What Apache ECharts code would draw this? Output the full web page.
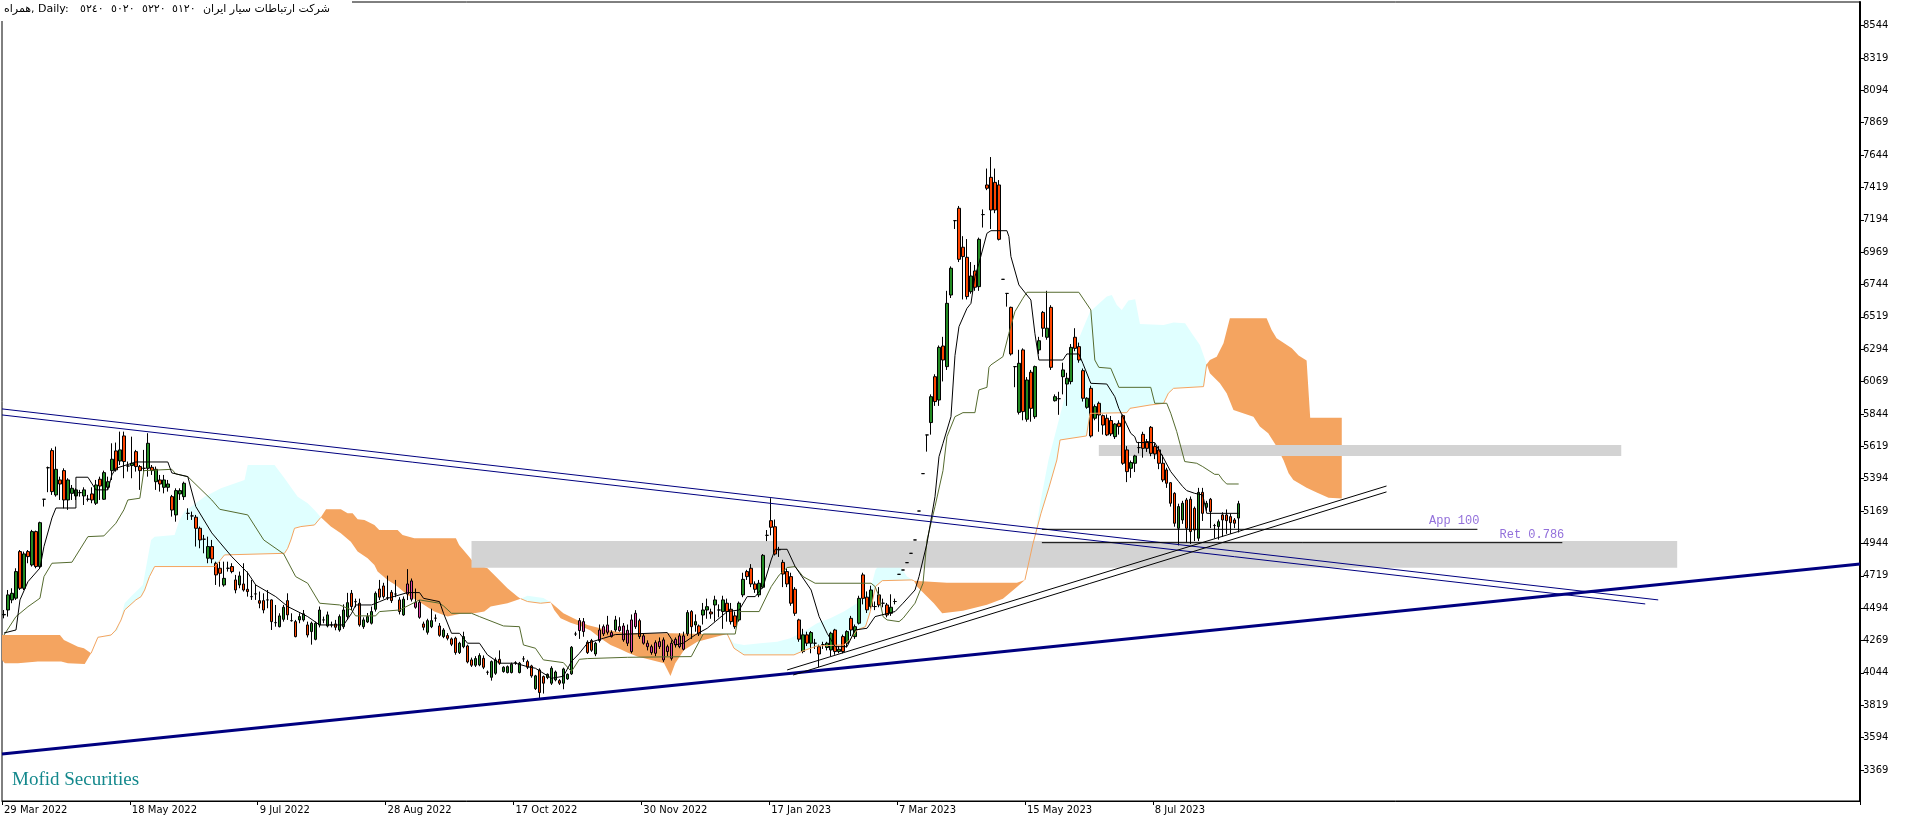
<!DOCTYPE html>
<html><head><meta charset="utf-8">
<script src="https://cdn.jsdelivr.net/npm/echarts@6/dist/echarts.min.js"></script>
<style>html,body{margin:0;padding:0;background:#fff;overflow:hidden}#c{width:1916px;height:826px}</style>
</head><body><div id="c"></div>
<script>
// ---------- axis labels ----------
const dateLabels = ['29 Mar 2022','18 May 2022','9 Jul 2022','28 Aug 2022','17 Oct 2022','30 Nov 2022','17 Jan 2023','7 Mar 2023','15 May 2023','8 Jul 2023'];
const labelEvery = 32;
const slotCount = 465;
const priceTicks = [3369,3594,3819,4044,4269,4494,4719,4944,5169,5394,5619,5844,6069,6294,6519,6744,6969,7194,7419,7644,7869,8094,8319,8544];
const priceMin = 3153, priceMax = 8708;
// title pieces, left to right
const titleHead = ['همراه, Daily:', '٥٢٤٠', '٥٠٢٠', '٥٢٢٠', '٥١٢٠'];
const titleHeadX = [4, 80, 111, 142, 172];
const titleName = 'شرکت ارتباطات سیار ایران';
const titleNameX = 203;

// ---------- daily candles [open, high, low, close] ----------
const ohlc = [
[4447,4481,4423,4450],[4481,4620,4435,4586],[4551,4632,4528,4597],[4563,4771,4551,4748],[4887,4898,4620,4632],
[4632,4887,4620,4871],[4887,4898,4806,4852],[4794,5038,4783,5026],[5026,5033,4771,4783],[4783,5095,4771,5088],
[5251,5251,5200,5251],[5470,5478,5300,5470],[5589,5605,5281,5304],[5281,5617,5269,5459],[5385,5408,5246,5357],
[5450,5466,5188,5246],[5246,5397,5177,5385],[5292,5350,5246,5327],[5274,5327,5246,5316],[5297,5316,5269,5297],
[5274,5334,5211,5316],[5251,5281,5235,5251],[5288,5334,5223,5246],[5223,5385,5211,5350],[5390,5408,5246,5343],
[5251,5450,5246,5436],[5334,5408,5316,5373],[5450,5640,5385,5529],[5587,5645,5443,5455],[5517,5721,5489,5594],
[5691,5721,5397,5513],[5482,5513,5443,5482],[5485,5686,5397,5501],[5582,5594,5443,5478],[5478,5489,5316,5450],
[5466,5594,5443,5466],[5466,5710,5408,5640],[5473,5489,5420,5450],[5373,5478,5316,5459],[5385,5420,5304,5357],
[5334,5420,5292,5385],[5334,5385,5304,5357],[5269,5281,5130,5176],[5142,5327,5095,5311],[5288,5327,5246,5311],
[5269,5373,5246,5362],[5153,5188,5107,5153],[5135,5165,5107,5135],[5126,5142,4922,5049],[5049,5061,4910,4968],
[4973,5003,4875,4973],[4841,4991,4806,4922],[4922,4968,4806,4836],[4806,4817,4655,4725],[4771,4817,4643,4736],
[4655,4817,4643,4701],[4771,4817,4748,4771],[4783,4806,4736,4748],[4690,4725,4597,4620],[4655,4748,4632,4718],
[4662,4806,4609,4620],[4625,4748,4574,4609],[4574,4690,4551,4574],[4593,4655,4551,4593],[4546,4609,4493,4528],
[4546,4597,4458,4481],[4551,4620,4493,4551],[4551,4555,4342,4400],[4393,4516,4365,4393],[4365,4458,4360,4440],
[4416,4516,4400,4500],[4546,4597,4412,4447],[4407,4458,4400,4407],[4400,4412,4291,4296],[4412,4458,4389,4435],
[4412,4481,4400,4454],[4377,4400,4290,4307],[4331,4400,4240,4389],[4277,4400,4270,4389],[4377,4505,4360,4481],
[4412,4435,4389,4412],[4370,4470,4360,4447],[4377,4400,4360,4377],[4384,4412,4340,4361],[4342,4450,4330,4435],
[4365,4520,4350,4481],[4435,4600,4412,4532],[4597,4620,4480,4505],[4539,4560,4500,4539],[4528,4560,4365,4377],
[4365,4430,4350,4412],[4398,4460,4390,4435],[4389,4505,4380,4470],[4486,4610,4470,4597],[4627,4690,4550,4570],
[4648,4670,4560,4574],[4567,4720,4550,4567],[4604,4620,4530,4546],[4592,4690,4570,4592],[4551,4570,4450,4470],
[4447,4575,4440,4556],[4662,4765,4550,4592],[4556,4700,4540,4683],[4535,4630,4490,4500],[4430,4550,4420,4535],
[4384,4400,4340,4361],[4326,4420,4310,4407],[4365,4490,4355,4407],[4424,4450,4400,4424],[4370,4390,4295,4305],
[4296,4355,4285,4342],[4303,4320,4270,4284],[4280,4290,4230,4243],[4285,4295,4170,4185],[4185,4260,4175,4250],
[4226,4330,4215,4296],[4231,4240,4110,4120],[4134,4150,4085,4097],[4097,4160,4085,4143],[4099,4180,4090,4164],
[4145,4165,4070,4083],[4048,4060,4030,4048],[4013,4130,3990,4122],[4041,4150,4030,4134],[4138,4200,4100,4111],
[4053,4090,4045,4083],[4046,4095,4040,4087],[4046,4115,4040,4104],[4115,4125,4100,4115],[4046,4120,4040,4111],
[4141,4160,4120,4141],[4122,4135,4070,4083],[4092,4100,4010,4023],[3934,4030,3925,4023],[4064,4075,3860,3907],
[4018,4025,3900,3972],[4011,4040,4000,4034],[3972,4090,3960,4076],[3995,4060,3985,4050],[3990,4000,3960,3972],
[3972,4080,3930,4071],[4002,4040,3995,4034],[4037,4230,4030,4222],[4314,4330,4300,4314],[4407,4425,4280,4338],
[4331,4425,4295,4400],[4257,4270,4175,4185],[4268,4280,4190,4201],[4175,4260,4160,4250],[4342,4380,4255,4268],
[4315,4380,4300,4365],[4326,4440,4310,4377],[4324,4340,4290,4296],[4342,4440,4330,4412],[4338,4430,4330,4365],
[4273,4390,4260,4370],[4340,4380,4230,4250],[4412,4450,4180,4192],[4365,4480,4350,4458],[4407,4420,4280,4296],
[4250,4320,4240,4301],[4250,4270,4200,4226],[4185,4240,4170,4226],[4254,4270,4160,4180],[4261,4290,4210,4226],
[4134,4290,4120,4273],[4226,4240,4160,4192],[4145,4270,4130,4250],[4238,4290,4220,4277],[4226,4320,4215,4301],
[4301,4330,4200,4208],[4315,4480,4300,4463],[4470,4480,4280,4365],[4377,4450,4330,4400],[4370,4380,4300,4315],
[4446,4530,4380,4481],[4481,4560,4420,4504],[4467,4490,4420,4454],[4516,4580,4400,4551],[4481,4520,4430,4481],
[4470,4580,4350,4551],[4528,4560,4400,4470],[4486,4530,4380,4400],[4440,4470,4350,4365],[4412,4540,4400,4528],
[4586,4740,4570,4694],[4748,4760,4690,4713],[4771,4800,4640,4662],[4662,4680,4600,4625],[4586,4690,4570,4667],
[4639,4870,4630,4861],[5000,5037,4960,5000],[5102,5258,5000,5056],[5060,5110,4860,4870],[4900,4920,4850,4900],
[4812,4830,4640,4731],[4748,4770,4640,4662],[4713,4740,4510,4528],[4625,4640,4440,4458],[4412,4420,4260,4278],
[4192,4350,4180,4308],[4308,4330,4230,4250],[4250,4335,4180,4324],[4250,4280,4210,4250],[4226,4240,4083,4175],
[4240,4260,4210,4240],[4220,4260,4200,4250],[4203,4330,4160,4319],[4342,4350,4170,4192],[4192,4230,4180,4208],
[4296,4310,4180,4192],[4250,4340,4220,4331],[4423,4440,4300,4342],[4296,4380,4280,4365],[4389,4580,4380,4562],
[4725,4740,4520,4562],[4570,4610,4460,4482],[4505,4650,4490,4620],[4505,4540,4480,4505],[4586,4640,4500,4516],
[4528,4560,4500,4528],[4516,4530,4430,4446],[4458,4590,4440,4500],[4540,4560,4520,4540],[4729,4729,4729,4729],
[4759,4759,4759,4759],[4810,4810,4810,4810],[4875,4875,4875,4875],[4968,4968,4968,4968],[5169,5169,5169,5169],
[5429,5429,5429,5429],[5698,5698,5582,5698],[5784,5980,5700,5964],[6103,6120,5900,5930],[5941,6320,5900,6307],
[6316,6380,6070,6219],[6173,6700,6150,6613],[6671,6870,6650,6857],[7188,7188,7130,7188],[7274,7290,6900,6919],
[7003,7080,6640,6938],[6933,7060,6640,6660],[6694,6900,6680,6803],[6838,6880,6700,6725],[6729,7070,6700,7058],
[7230,7266,7140,7230],[7436,7550,7400,7413],[7489,7630,7130,7262],[7454,7550,7240,7262],[7436,7470,7050,7058],
[6780,6780,6780,6780],[6682,6682,6590,6682],[6585,6590,6250,6261],[6173,6173,6030,6173],[5855,6290,5840,6196],
[6289,6300,5800,5860],[5807,6100,5790,6080],[6134,6150,5790,5883],[5825,6180,5810,6173],[6289,6380,6260,6353],
[6550,6560,6380,6440],[6377,6700,6360,6440],[6585,6600,6150,6168],[5936,5980,5930,5964],[5950,5998,5838,5950],
[6103,6200,5980,6150],[6052,6130,5900,6092],[6069,6330,6050,6307],[6377,6440,6280,6300],[6312,6340,6200,6219],
[6145,6160,5930,5953],[5890,5960,5880,5953],[6022,6040,5680,5691],[5814,5910,5800,5895],[5918,5930,5720,5837],
[5832,5840,5700,5767],[5814,5840,5690,5698],[5798,5830,5690,5705],[5686,5780,5670,5774],[5779,5800,5700,5756],
[5832,5840,5490,5501],[5594,5620,5370,5443],[5466,5520,5400,5506],[5501,5560,5440,5552],[5610,5650,5570,5610],
[5702,5720,5540,5605],[5652,5670,5580,5605],[5751,5760,5550,5570],[5617,5640,5530,5566],[5594,5620,5460,5501],
[5501,5560,5370,5385],[5455,5470,5330,5362],[5366,5370,5200,5223],[5292,5300,5060,5084],[5049,5220,4930,5200],
[5107,5240,5080,5223],[5246,5260,4950,5049],[5251,5270,4940,5026],[5188,5200,4960,5037],[4980,5330,4960,5299],
[5299,5330,5100,5153],[5195,5240,5170,5223],[5251,5260,5050,5165],[5068,5080,4980,5068],[5061,5110,4970,5095],
[5142,5160,4990,5107],[5142,5180,5010,5102],[5130,5150,5010,5088],[5107,5120,5050,5084],[5120,5240,5020,5220]
];
// bars whose candles are drawn inside the cloud (shown with inverted colours)
const inCloudBars = [101,102,103,104,144,145,149,150,151,152,154,155,156,157,158,160,161,162,163,164,165,166,167,168,169,170];

// ---------- Ichimoku lines, read as [bar, price] vertices ----------
const tenkan = [[0,4321],[3,4342],[4,4551],[6,4678],[9,4773],[10,4922],[12,5121],[13,5190],[18,5190],[18,5404],[21,5404],[23,5316],[26,5316],[27,5420],[28,5466],[33,5510],[41,5510],[42,5434],[46,5408],[48,5200],[52,5017],[57,4852],[61,4739],[63,4655],[68,4574],[71,4505],[76,4435],[79,4377],[85,4377],[87,4458],[88,4516],[92,4516],[94,4539],[96,4562],[101,4602],[104,4602],[105,4562],[109,4539],[110,4458],[112,4319],[114,4319],[116,4250],[119,4250],[121,4169],[124,4111],[128,4111],[131,4087],[133,4076],[137,4006],[140,4020],[142,4122],[144,4180],[146,4250],[150,4284],[153,4310],[166,4324],[168,4238],[170,4250],[173,4308],[176,4354],[178,4400],[181,4470],[184,4481],[186,4574],[188,4574],[190,4644],[192,4829],[193,4903],[196,4903],[198,4783],[202,4620],[204,4435],[206,4319],[208,4226],[211,4226],[213,4342],[216,4354],[218,4435],[223,4470],[225,4528],[228,4620],[229,4713],[231,4945],[233,5269],[234,5547],[235,5640],[237,5825],[238,6250],[239,6451],[241,6578],[242,6613],[243,6799],[244,6891],[246,7100],[247,7118],[251,7118],[251.5,7077],[252,6938],[254,6741],[257,6636],[258,6405],[259,6219],[265,6219],[266,6261],[269,6261],[270,6196],[272,6057],[276,6052],[278,5964],[279,5883],[281,5768],[282,5709],[283,5686],[283.5,5645],[288,5645],[289,5594],[290,5547],[292,5443],[294,5373],[295,5339],[296,5311],[298,5292],[300,5281],[301,5153],[309,5153]];
const kijun = [[0,4307],[3,4435],[6,4504],[9,4563],[10,4713],[12,4806],[17,4813],[21,4991],[25,4996],[28,5084],[30,5177],[31,5246],[34,5258],[35,5450],[42,5459],[43,5427],[46,5408],[52,5246],[54,5181],[61,5142],[65,4968],[70,4871],[73,4713],[76,4667],[79,4528],[84,4516],[87,4481],[88,4440],[93,4440],[94,4470],[99,4481],[104,4551],[109,4528],[110,4509],[112,4458],[117,4458],[119,4435],[125,4370],[129,4365],[130,4238],[133,4215],[135,4134],[140,4115],[142,4053],[144,4138],[146,4143],[156,4152],[172,4157],[175,4314],[183,4314],[184,4470],[189,4470],[192,4643],[194,4724],[196,4776],[198,4783],[200,4713],[203,4667],[217,4667],[218,4644],[219,4574],[220,4435],[221,4412],[224,4400],[225,4423],[228,4528],[230,4667],[231,4968],[233,5200],[235,5450],[236,5686],[238,5825],[240,5853],[243,5853],[244,6011],[246,6029],[246.5,6168],[247,6185],[250,6242],[251.5,6405],[253,6555],[255,6648],[256,6690],[269,6690],[272,6567],[273,6219],[274,6168],[277,6161],[279,6029],[287,6029],[288,5918],[291,5918],[292,5849],[293.5,5721],[295.5,5513],[298.5,5501],[300,5478],[303,5424],[304,5424],[305,5385],[306,5357],[309,5357]];

// ---------- Kumo (cloud) pieces: upper edge and lower edge, [bar, price] ----------
const kumoO1Up = [[-0.5,4307],[14,4307],[15,4273],[18.5,4226],[20,4215],[21.8,4180]];
const kumoO1Lo = [[-0.5,4134],[0.2,4111],[3.5,4111],[8.5,4122],[14.3,4122],[16,4111],[20.2,4106],[21.8,4180]];
const kumoC1Up = [[21.8,4180],[23.5,4296],[26.4,4296],[28.5,4342],[30.2,4528],[31.8,4574],[34.75,4655],[36.8,4968],[37.7,4991],[42.7,5003],[43.9,5107],[45.2,5165],[50.2,5269],[54.3,5327],[60.2,5385],[61,5489],[67.7,5489],[70.2,5397],[73.5,5269],[76,5223],[77.7,5177],[79.3,5125]];
const kumoC1Lo = [[21.8,4180],[23.5,4291],[26.8,4307],[28,4342],[29.3,4412],[30.2,4481],[33,4551],[34.3,4574],[35.2,4620],[36.4,4713],[37.7,4783],[52.7,4783],[53.5,4806],[55.2,4864],[70.2,4875],[71,4910],[71.8,4968],[72.7,5049],[74.3,5061],[77.7,5072],[79.3,5125]];
const kumoO2Up = [[79.3,5125],[80.6,5181],[84.3,5181],[86,5153],[87.25,5153],[88.5,5112],[90.2,5107],[92.7,5072],[93.9,5037],[98.5,5037],[99.75,5003],[102.7,4980],[113.1,4980],[113.9,4933],[116.4,4852],[117.7,4806],[121,4771],[122.7,4725],[126,4632],[128.5,4574],[129.3,4560]];
const kumoO2Lo = [[79.3,5125],[81.8,5061],[84.3,5014],[86.8,4956],[88.5,4887],[91,4841],[92.7,4794],[93.5,4748],[96,4690],[98,4655],[101,4586],[104.3,4532],[107.7,4470],[111,4435],[114.3,4454],[117.7,4458],[120.2,4470],[121.8,4505],[126,4528],[129.3,4560]];
const kumoC2Up = [[129.3,4560],[131,4580],[135,4565],[136.8,4535]];
const kumoC2Lo = [[129.3,4560],[131,4540],[134.3,4528],[136.8,4535]];
const kumoO3Up = [[136.8,4535],[140,4458],[144.3,4400],[146,4377],[151,4342],[156,4319],[167,4319],[175,4314],[181,4314]];
const kumoO3Lo = [[136.8,4535],[137.7,4481],[139.3,4424],[141.8,4393],[144.3,4370],[146.8,4338],[149.3,4284],[151.8,4238],[154.3,4208],[156,4185],[158.5,4157],[165.2,4111],[166.8,4022],[168,4111],[170.2,4203],[173.5,4261],[178.5,4296],[181,4314]];
const kumoC3Up = [[181,4314],[182.7,4250],[185.2,4238],[189.3,4250],[193.5,4261],[196.8,4284],[200.2,4331],[203.5,4389],[206.8,4423],[210.2,4470],[213.5,4528],[216.8,4620],[218.1,4759],[219.3,4810],[221.8,4833],[223.5,4817],[226,4713],[227.7,4685]];
const kumoC3Lo = [[181,4314],[182.7,4215],[185.2,4169],[197.7,4169],[200.2,4199],[203.5,4231],[210.2,4238],[211.8,4277],[213.5,4342],[215.6,4365],[216.8,4470],[218.1,4644],[219.8,4685],[227.2,4690],[227.7,4685]];
const kumoO4Up = [[227.7,4685],[236,4671],[253.5,4670],[255.5,4690]];
const kumoO4Lo = [[227.7,4685],[228.5,4644],[231,4574],[232.7,4528],[234.8,4458],[240,4475],[246,4517],[250,4560],[253.5,4640],[255.5,4690]];
const kumoC4Up = [[255.5,4690],[256.6,4800],[258,5000],[259.5,5250],[261.4,5524],[265.5,5964],[268.5,6335],[271.8,6555],[276,6660],[277.25,6671],[278.5,6602],[279.75,6567],[281.4,6632],[283.1,6641],[284.3,6470],[290.2,6463],[292.7,6479],[295.6,6474],[297.25,6405],[299.3,6323],[301,6190]];
const kumoC4Lo = [[255.5,4690],[257.5,4940],[259.5,5150],[261.5,5330],[263.5,5524],[264.3,5663],[270.9,5691],[271.8,5848],[281,5853],[281.8,5883],[286.8,5906],[290.2,5918],[291.4,5988],[292.7,6022],[300.2,6034],[301,6190]];
const kumoO5Up = [[301,6190],[301.8,6219],[303.5,6242],[305.2,6335],[306.8,6509],[316,6509],[317.25,6428],[318.5,6370],[322.3,6301],[324,6250],[326,6216],[326.9,5817],[334.8,5817]];
const kumoO5Lo = [[301,6190],[301.8,6127],[304.3,6057],[306,5988],[307.7,5872],[312.7,5825],[314.3,5756],[316.4,5709],[318.5,5617],[320.2,5524],[321.5,5431],[322.7,5385],[326,5330],[328.4,5300],[331.5,5262],[334.8,5256]];
const orangeKumo = [[kumoO1Up,kumoO1Lo],[kumoO2Up,kumoO2Lo],[kumoO3Up,kumoO3Lo],[kumoO4Up,kumoO4Lo],[kumoO5Up,kumoO5Lo]];
const cyanKumo = [[kumoC1Up,kumoC1Lo],[kumoC2Up,kumoC2Lo],[kumoC3Up,kumoC3Lo],[kumoC4Up,kumoC4Lo]];

// ---------- drawn objects ----------
const channelTop = [[-0.5,5879],[414,4551]];
const channelBottom = [[-0.5,5837],[410.75,4523]];
const supportLine = [[-0.5,3480],[464.5,4801]];
const riseLineA = [[196,4064],[346,5343]];
const riseLineB = [[197.5,4029],[346,5302]];
const levelNames = ['App 100','Ret 0.786'];
const levelPrice = [5042,4949];
const levelFrom = [259.75,259.75];
const levelTo = [368.75,390];
const zoneFrom = [117,274];
const zoneTo = [418.75,404.75];
const zoneHigh = [4961,5628.5];
const zoneLow = [4775.5,5552];

// ---------- chart ----------
const FONT = '"DejaVu Sans", sans-serif';
const TITLE_FONT = '11px "DejaVu Sans"';
const chart = echarts.init(document.getElementById('c'), null, {renderer:'canvas'});
const slots = Array.from({length: slotCount}, (_, i) => String(i));
const showLabel = (i) => i % labelEvery === 0 && (i / labelEvery) < dateLabels.length;

function lineSeries(pts, color, width, z) {
  return {type:'line', xAxisIndex:1, yAxisIndex:0, data:pts, symbol:'none', silent:true,
    clip:true, z:z, lineStyle:{color:color, width:width}, emphasis:{disabled:true}};
}
function kumoSeries(regions, fill, z) {
  return {type:'custom', xAxisIndex:1, yAxisIndex:0, z:z, silent:true, clip:true,
    data: regions.map((r, i) => [i, r[0][0][1]]), encode:{x:0, y:1},
    renderItem: (params, api) => {
      const r = regions[params.dataIndex];
      const pts = r[0].concat(r[1].slice().reverse()).map(p => api.coord(p));
      return {type:'polygon', shape:{points:pts}, style:{fill:fill}};
    }};
}
const candleData = ohlc.map((d, i) => {
  const item = {value:[d[0], d[3], d[2], d[1]]};
  if (inCloudBars.indexOf(i) >= 0) item.itemStyle = {color:'#E0409C', color0:'#10B4E8'};
  return item;
});

const series = [
  kumoSeries(orangeKumo, '#F4A460', 1),
  kumoSeries(cyanKumo, '#E0FFFF', 1),
  {type:'custom', xAxisIndex:1, yAxisIndex:0, z:2, silent:true, clip:true,
    data: zoneFrom.map((f, i) => [f, zoneHigh[i]]), encode:{x:0, y:1},
    renderItem: (params, api) => {
      const i = params.dataIndex;
      const a = api.coord([zoneFrom[i], zoneHigh[i]]);
      const b = api.coord([zoneTo[i], zoneLow[i]]);
      return {type:'rect', shape:{x:a[0], y:a[1], width:b[0]-a[0], height:b[1]-a[1]},
        style:{fill:'#D3D3D3', blend:'multiply'}};
    }},
  {type:'candlestick', xAxisIndex:0, yAxisIndex:0, z:3, silent:true, barWidth:3,
    data: candleData,
    itemStyle:{color:'#228B22', color0:'#FF4500', borderColor:'#000', borderColor0:'#000', borderWidth:1}},
  ...cyanKumo.map(r => lineSeries(r[1], '#F4A460', 1, 4)),
  lineSeries(kijun, '#556B2F', 1, 5),
  lineSeries(tenkan, '#000000', 1, 5),
  lineSeries(channelTop, '#000080', 1, 6),
  lineSeries(channelBottom, '#000080', 1, 6),
  lineSeries(supportLine, '#000080', 3, 6),
  lineSeries(riseLineA, '#000000', 1, 6),
  lineSeries(riseLineB, '#000000', 1, 6),
  ...levelPrice.map((p, i) => lineSeries([[levelFrom[i], p], [levelTo[i], p]], '#000000', 1, 6)),
  {type:'custom', xAxisIndex:1, yAxisIndex:0, z:7, silent:true,
    data: levelPrice.map((p, i) => [levelTo[i], p]), encode:{x:0, y:1},
    renderItem: (params, api) => {
      const i = params.dataIndex;
      const c = api.coord([levelTo[i], levelPrice[i]]);
      return {type:'text', x:c[0] + 2, y:c[1] - 2,
        style:{text:levelNames[i], align:'right', verticalAlign:'bottom',
          font:'12px "Liberation Mono", monospace', fill:'#9370DB'}};
    }}
];

const graphics = [{type:'rect', left:0, top:0, z:100, shape:{width:352, height:21}, style:{fill:'#fff'}}];
titleHead.forEach((t, i) => graphics.push({type:'text', x:titleHeadX[i], y:4, z:101,
  style:{text:t, font:TITLE_FONT, fill:'#000', align:'left', verticalAlign:'top'}}));
graphics.push({type:'text', x:titleNameX, y:4, z:101,
  style:{text:titleName, font:TITLE_FONT, fill:'#000', align:'left', verticalAlign:'top'}});
graphics.push({type:'text', left:12, top:771, z:101,
  style:{text:'Mofid Securities', font:'19px "Liberation Serif", serif', fill:'#13888C'}});

chart.setOption({
  animation:false,
  backgroundColor:'#ffffff',
  grid:{left:2, right:56, top:2, bottom:25, show:true, borderColor:'#000', borderWidth:1, backgroundColor:'#fff'},
  xAxis:[
    {type:'category', data:slots, boundaryGap:true,
      axisLine:{show:true, lineStyle:{color:'#000', width:1}},
      axisTick:{show:true, interval:(i) => showLabel(i), length:4, lineStyle:{color:'#000'}},
      axisLabel:{show:true, interval:(i) => showLabel(i), formatter:(v, i) => dateLabels[i / labelEvery] || '',
        align:'left', margin:4, color:'#000', fontFamily:FONT, fontSize:10},
      splitLine:{show:false}},
    {type:'value', min:-0.5, max:slotCount - 0.5, show:false, splitLine:{show:false}}
  ],
  yAxis:[{type:'value', position:'right', min:priceMin, max:priceMax,
    axisLine:{show:true, onZero:false, lineStyle:{color:'#000', width:2}},
    axisTick:{show:true, length:4, lineStyle:{color:'#000'}, customValues:priceTicks},
    axisLabel:{show:true, customValues:priceTicks, formatter:(v) => String(v), margin:3, color:'#000', fontFamily:FONT, fontSize:10},
    splitLine:{show:false}}],
  series: series,
  graphic: graphics
});
</script>
</body></html>
